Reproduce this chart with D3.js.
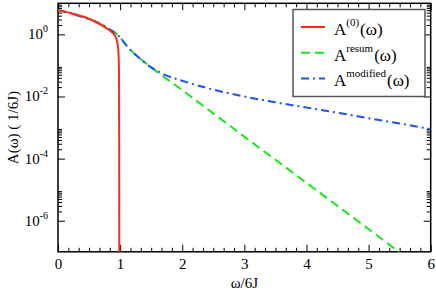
<!DOCTYPE html>
<html>
<head>
<meta charset="utf-8">
<script src="https://cdn.jsdelivr.net/npm/d3@7"></script>
<style>
  body { margin: 0; background: #fff; }
  text { font-family: "Liberation Serif", "DejaVu Serif", serif; }
</style>
</head>
<body>
<svg id="chart" width="436" height="290"></svg>
<script>
// values (omega/6J, A(omega))
var omega0 = [0, 0.1, 0.2, 0.3, 0.4, 0.5, 0.6, 0.7, 0.8, 0.85, 0.9, 0.93, 0.95, 0.965, 0.975, 0.982, 0.985, 0.987];
var A0     = [6.0, 5.5, 4.9, 4.3, 3.75, 3.15, 2.55, 2.0, 1.5, 1.25, 1.0, 0.82, 0.6, 0.4, 0.22, 0.06, 1e-4, 1e-8];

var omegaRes = [0, 0.2, 0.4, 0.6, 0.8, 0.9, 1.0, 1.1, 1.25, 1.5, 2, 3, 4, 5, 5.5];
var Ares     = [6.0, 4.8, 3.6, 2.6, 1.6, 1.18, 0.8, 0.44, 0.22, 0.087, 0.016, 5.1e-4, 1.66e-5, 5.4e-7, 9.5e-8];

var omegaMod = [0, 0.2, 0.4, 0.6, 0.8, 0.9, 1.0, 1.1, 1.25, 1.5, 1.75, 2, 2.5, 3, 3.5, 4, 4.5, 5, 5.5, 6];
var Amod     = [6.0, 4.8, 3.6, 2.6, 1.6, 1.18, 0.8, 0.44, 0.22, 0.087, 0.047, 0.032, 0.0166, 0.01, 0.0065, 0.0044, 0.0030, 0.0020, 0.00135, 0.00089];

var xTickVals = [0, 1, 2, 3, 4, 5, 6];
var yMajorExp = [0, -2, -4, -6];
var legendNames = [["(0)", "(ω)"], ["resum", "(ω)"], ["modified", "(ω)"]];

var FONT = "'Liberation Serif', 'DejaVu Serif', serif";
var svg = d3.select("#chart").attr("font-family", FONT);
var W = 436, H = 290;
var margin = {top: 3.3, right: 5.3, bottom: 38.2, left: 58};

var x = d3.scaleLinear().domain([0, 6]).range([margin.left, W - margin.right]);
var y = d3.scaleLog().domain([1e-7, 10]).range([H - margin.bottom, margin.top]);

svg.append("defs").append("clipPath").attr("id", "clip")
  .append("rect")
  .attr("x", margin.left).attr("y", margin.top)
  .attr("width", x(6) - x(0)).attr("height", y(1e-7) - y(10));

// tick lists
var xMinor = d3.range(0, 37).map(function(i) { return i / 6; }).filter(function(v, i) { return i % 6 != 0; });
var yMinor = [];
[0, -2, -4, -6].forEach(function(e) {
  for (var k = 2; k <= 9; k++) yMinor.push(k * Math.pow(10, e));
});
var yMajor = yMajorExp.map(function(e) { return Math.pow(10, e); });

function styleAxis(g) {
  g.attr("font-family", FONT);
  g.select(".domain").remove();
  g.selectAll("line").attr("stroke", "#000").attr("stroke-width", 1);
}

// bottom / top
svg.append("g").attr("transform", "translate(0," + y(1e-7) + ")")
  .call(d3.axisBottom(x).tickValues(xTickVals).tickSize(-7).tickPadding(7).tickFormat(d3.format("d")))
  .call(styleAxis)
  .selectAll("text").attr("font-size", 15).attr("fill", "#000");
svg.append("g").attr("transform", "translate(0," + y(1e-7) + ")")
  .call(d3.axisBottom(x).tickValues(xMinor).tickSize(-4).tickFormat(""))
  .call(styleAxis);
svg.append("g").attr("transform", "translate(0," + y(10) + ")")
  .call(d3.axisTop(x).tickValues(xTickVals).tickSize(-7).tickFormat(""))
  .call(styleAxis);
svg.append("g").attr("transform", "translate(0," + y(10) + ")")
  .call(d3.axisTop(x).tickValues(xMinor).tickSize(-4).tickFormat(""))
  .call(styleAxis);

// left / right
svg.append("g").attr("transform", "translate(" + x(0) + ",0)")
  .call(d3.axisLeft(y).tickValues(yMajor).tickSize(-7).tickFormat(""))
  .call(styleAxis);
svg.append("g").attr("transform", "translate(" + x(0) + ",0)")
  .call(d3.axisLeft(y).tickValues(yMinor).tickSize(-4).tickFormat(""))
  .call(styleAxis);
svg.append("g").attr("transform", "translate(" + x(6) + ",0)")
  .call(d3.axisRight(y).tickValues(yMajor).tickSize(-7).tickFormat(""))
  .call(styleAxis);
svg.append("g").attr("transform", "translate(" + x(6) + ",0)")
  .call(d3.axisRight(y).tickValues(yMinor).tickSize(-4).tickFormat(""))
  .call(styleAxis);

// y labels 10^n
yMajorExp.forEach(function(e) {
  var t = svg.append("text")
    .attr("x", 48).attr("y", y(Math.pow(10, e)) + 5)
    .attr("text-anchor", "end").attr("font-size", 15);
  t.append("tspan").text("10");
  t.append("tspan").attr("dy", -7).attr("font-size", 10).text(String(e));
});

// frame
svg.append("rect")
  .attr("x", x(0)).attr("y", y(10))
  .attr("width", x(6) - x(0)).attr("height", y(1e-7) - y(10))
  .attr("fill", "none").attr("stroke", "#000").attr("stroke-width", 1.5);

// curves
var line = d3.line()
  .x(function(d) { return x(d[0]); })
  .y(function(d) { return y(d[1]); })
  .curve(d3.curveMonotoneX);

var plot = svg.append("g").attr("clip-path", "url(#clip)");

var series = [
  {xs: omegaRes, ys: Ares, color: "#1ee61e", dash: "9,5"},
  {xs: omegaMod, ys: Amod, color: "#1e50ff", dash: "8,4,2,4"},
  {xs: omega0, ys: A0, color: "#ff2a14", dash: null}
];
series.forEach(function(s) {
  plot.append("path")
    .datum(d3.zip(s.xs, s.ys))
    .attr("d", line)
    .attr("fill", "none")
    .attr("stroke", s.color)
    .attr("stroke-width", 2)
    .attr("stroke-dasharray", s.dash);
});

// legend
var leg = svg.append("g");
leg.append("rect")
  .attr("x", 293).attr("y", 9.5).attr("width", 132).attr("height", 87)
  .attr("fill", "#fff").attr("stroke", "#555").attr("stroke-width", 1.5);
var legOrder = [series[2], series[0], series[1]];
legendNames.forEach(function(n, i) {
  var ly = 27 + i * 25.7;
  leg.append("line")
    .attr("x1", 301).attr("x2", 325).attr("y1", ly).attr("y2", ly)
    .attr("stroke", legOrder[i].color).attr("stroke-width", 2)
    .attr("stroke-dasharray", legOrder[i].dash);
  var t = leg.append("text").attr("x", 334).attr("y", ly + 8).attr("font-size", 17);
  t.append("tspan").text("A");
  t.append("tspan").attr("dy", -9).attr("font-size", 11).text(n[0]);
  t.append("tspan").attr("dy", 9).attr("dx", 1).text(n[1]);
});

// axis titles
svg.append("text")
  .attr("x", (x(0) + x(6)) / 2).attr("y", 288)
  .attr("text-anchor", "middle").attr("font-size", 15)
  .text("ω/6J");
svg.append("text")
  .attr("transform", "translate(18," + ((y(10) + y(1e-7)) / 2) + ") rotate(-90)")
  .attr("text-anchor", "middle").attr("font-size", 15)
  .text("A(ω) ( 1/6J)");
</script>
</body>
</html>
